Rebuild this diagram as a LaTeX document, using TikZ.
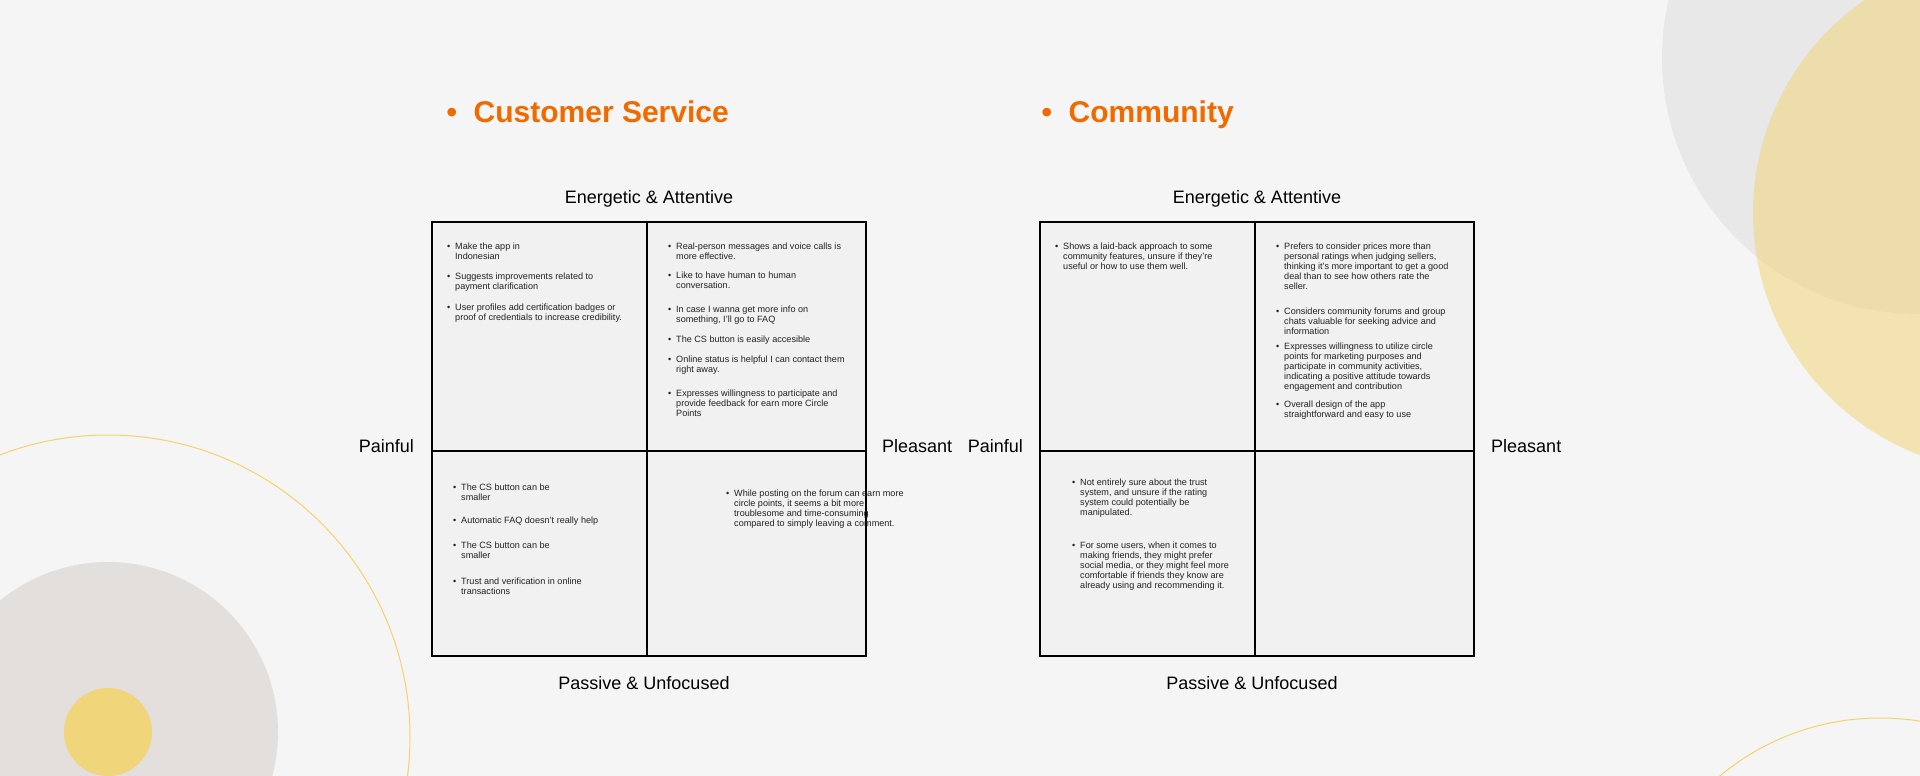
\documentclass[tikz,border=0pt]{standalone}
\usepackage{fontspec}
\setmainfont{Liberation Sans}
\definecolor{bgcol}{HTML}{F5F5F5}
\definecolor{boxfill}{HTML}{F1F1F1}
\definecolor{titleorange}{HTML}{F06A00}
\definecolor{notetext}{HTML}{222222}
\definecolor{beige}{HTML}{E3DFDC}
\definecolor{sunny}{HTML}{F0D57A}
\definecolor{ringyellow}{HTML}{F5D26A}
\definecolor{softgrey}{HTML}{E8E8E8}
\newcommand{\itm}{\llap{\textbullet\hspace{5pt}}}
\tikzset{
  note/.style={anchor=north west, inner sep=0pt, align=left, text=notetext, font=\fontsize{9.1}{10}\selectfont},
  axislabel/.style={inner sep=0pt, text=black, font=\fontsize{18}{20}\selectfont},
  heading/.style={anchor=base west, inner sep=0pt, text=titleorange, font=\fontsize{30}{32}\selectfont\bfseries},
  quad/.style={draw=black, line width=2.5pt, fill=boxfill},
  divider/.style={draw=black, line width=2pt}
}
\begin{document}
\begin{tikzpicture}[x=1pt,y=-1pt]
\fill[bgcol] (0,0) rectangle (1920,776);
\useasboundingbox (0,0) rectangle (1920,776);
\clip (0,0) rectangle (1920,776);

\fill[softgrey] (1918,58) circle[radius=256pt];
\fill[sunny, opacity=0.55] (2012,213) circle[radius=259pt];
\draw[ringyellow, line width=1pt] (1880,968) circle[radius=250pt];
\draw[ringyellow, line width=1pt] (108,737) circle[radius=302pt];
\fill[beige] (108,732) circle[radius=170pt];
\fill[sunny] (108,732) circle[radius=44pt];

\node[heading] (cs-title) at (446.5,122) {\textbullet\hspace{16.5pt}Customer Service};
\node[heading] (cm-title) at (1041.5,122) {\textbullet\hspace{16.5pt}Community};

\draw[quad] (432,222) rectangle (866,656);
\draw[divider] (647,222) -- (647,656); \draw[divider] (432,451) -- (866,451);
\draw[quad] (1040,222) rectangle (1474,656);
\draw[divider] (1255,222) -- (1255,656); \draw[divider] (1040,451) -- (1474,451);

\node[axislabel, anchor=base] (cs-top) at (649,203) {Energetic \& Attentive};
\node[axislabel, anchor=base] (cs-bottom) at (644,689) {Passive \& Unfocused};
\node[axislabel, anchor=base east] (cs-left) at (414,452) {Painful};
\node[axislabel, anchor=base west] (cs-right) at (882,452) {Pleasant};
\node[axislabel, anchor=base] (cm-top) at (1257,203) {Energetic \& Attentive};
\node[axislabel, anchor=base] (cm-bottom) at (1252,689) {Passive \& Unfocused};
\node[axislabel, anchor=base east] (cm-left) at (1023,452) {Painful};
\node[axislabel, anchor=base west] (cm-right) at (1491,452) {Pleasant};

\node[note] (cs-tl1) at (455,243) {\itm Make the app in\\Indonesian};
\node[note] (cs-tl2) at (455,273) {\itm Suggests improvements related to\\payment clarification};
\node[note] (cs-tl3) at (455,304) {\itm User profiles add certification badges or\\proof of credentials to increase credibility.};

\node[note] (cs-tr1) at (676,243) {\itm Real-person messages and voice calls is\\more effective.};
\node[note] (cs-tr2) at (676,272) {\itm Like to have human to human\\conversation.};
\node[note] (cs-tr3) at (676,306) {\itm In case I wanna get more info on\\something, I'll go to FAQ};
\node[note] (cs-tr4) at (676,336) {\itm The CS button is easily accesible};
\node[note] (cs-tr5) at (676,356) {\itm Online status is helpful I can contact them\\right away.};
\node[note] (cs-tr6) at (676,390) {\itm Expresses willingness to participate and\\provide feedback for earn more Circle\\Points};

\node[note] (cs-bl1) at (461,484) {\itm The CS button can be\\smaller};
\node[note] (cs-bl2) at (461,517) {\itm Automatic FAQ doesn't really help};
\node[note] (cs-bl3) at (461,542) {\itm The CS button can be\\smaller};
\node[note] (cs-bl4) at (461,578) {\itm Trust and verification in online\\transactions};

\node[note] (cs-br1) at (734,490) {\itm While posting on the forum can earn more\\circle points, it seems a bit more\\troublesome and time-consuming\\compared to simply leaving a comment.};

\node[note] (cm-tl1) at (1063,243) {\itm Shows a laid-back approach to some\\community features, unsure if they're\\useful or how to use them well.};

\node[note] (cm-tr1) at (1284,243) {\itm Prefers to consider prices more than\\personal ratings when judging sellers,\\thinking it's more important to get a good\\deal than to see how others rate the\\seller.};
\node[note] (cm-tr2) at (1284,308) {\itm Considers community forums and group\\chats valuable for seeking advice and\\information};
\node[note] (cm-tr3) at (1284,343) {\itm Expresses willingness to utilize circle\\points for marketing purposes and\\participate in community activities,\\indicating a positive attitude towards\\engagement and contribution};
\node[note] (cm-tr4) at (1284,401) {\itm Overall design of the app\\straightforward and easy to use};

\node[note] (cm-bl1) at (1080,479) {\itm Not entirely sure about the trust\\system, and unsure if the rating\\system could potentially be\\manipulated.};
\node[note] (cm-bl2) at (1080,542) {\itm For some users, when it comes to\\making friends, they might prefer\\social media, or they might feel more\\comfortable if friends they know are\\already using and recommending it.};
\end{tikzpicture}
\end{document}
